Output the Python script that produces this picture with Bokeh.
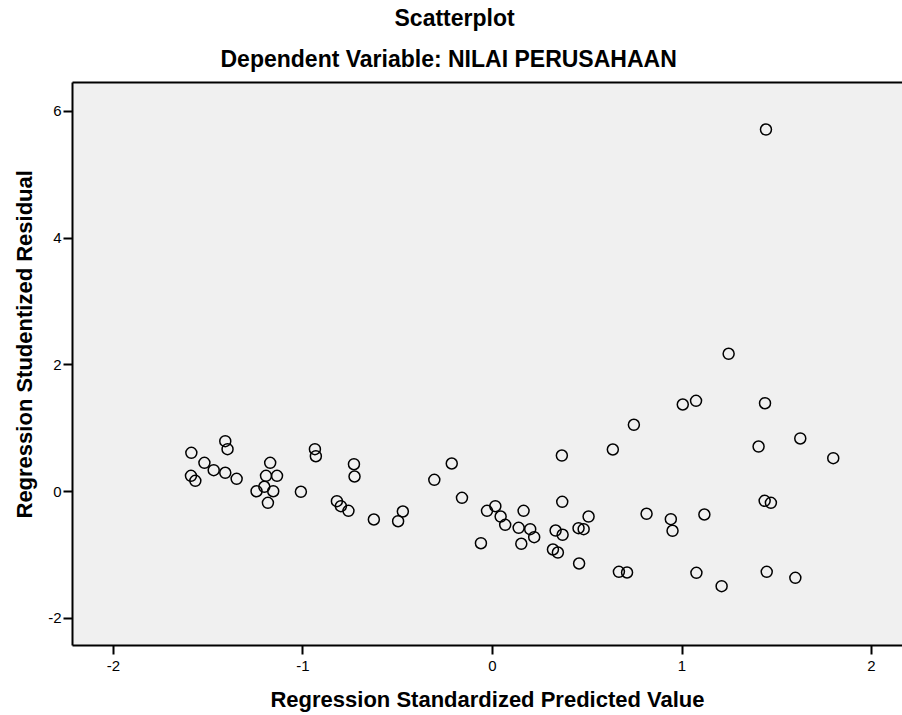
from bokeh.plotting import figure
from bokeh.models import Range1d, LinearAxis, FixedTicker, Title
from bokeh.embed import file_html
from bokeh.resources import INLINE

# Data
predicted = [-1.589, -1.410, -1.398, -1.520, -1.471, -1.410, -1.350, -1.591, -1.568,
             -1.173, -1.195, -1.137, -1.204, -1.245, -1.157, -1.185, -1.011, -0.937,
             -0.932, -0.731, -0.728, -0.821, -0.800, -0.760, -0.626, -0.498, -0.473,
             -0.307, -0.215, -0.161, -0.061, -0.029, 0.015, 0.043, 0.067, 0.138,
             0.164, 0.152, 0.199, 0.220, 0.319, 0.345, 0.333, 0.370, 0.366, 0.368,
             0.454, 0.481, 0.507, 0.457, 0.635, 0.746, 0.667, 0.710, 1.246, 1.004,
             1.074, 1.438, 1.404, 1.624, 1.798, 1.436, 1.469, 0.813, 0.941, 0.950,
             1.118, 1.076, 1.209, 1.447, 1.598, 1.443]
residual = [0.612, 0.795, 0.669, 0.454, 0.338, 0.297, 0.202, 0.249, 0.170,
            0.454, 0.249, 0.249, 0.076, 0.006, 0.006, -0.177, -0.003, 0.669,
            0.558, 0.432, 0.238, -0.151, -0.230, -0.303, -0.440, -0.467, -0.314,
            0.186, 0.443, -0.098, -0.814, -0.303, -0.230, -0.393, -0.524, -0.571,
            -0.303, -0.823, -0.593, -0.719, -0.913, -0.961, -0.614, -0.681, 0.569, -0.161,
            -0.577, -0.593, -0.393, -1.134, 0.664, 1.054, -1.265, -1.276, 2.174, 1.374,
            1.432, 1.394, 0.711, 0.838, 0.527, -0.145, -0.177, -0.350, -0.435, -0.618,
            -0.361, -1.281, -1.492, -1.265, -1.360, 5.711]
x_ticks = [-2, -1, 0, 1, 2]
x_tick_labels = ["-2", "-1", "0", "1", "2"]
y_ticks = [-2, 0, 2, 4, 6]
y_tick_labels = ["-2", "0", "2", "4", "6"]
title_main = "Scatterplot"
title_sub = "Dependent Variable: NILAI PERUSAHAAN"
x_title = "Regression Standardized Predicted Value"
y_title = "Regression Studentized Residual"

FONT = "Liberation Sans"

p = figure(width=902, height=715, output_backend="svg", toolbar_location=None,
           x_range=Range1d(-2.2161, 2.1634), y_range=Range1d(-2.4274, 6.4527),
           min_border_left=71, min_border_right=0, min_border_top=82, min_border_bottom=70,
           background_fill_color="#F0F0F0", border_fill_color="white",
           outline_line_color=None)
p.grid.visible = False

def style_axis(ax, ticks, labels, standoff):
    ax.ticker = FixedTicker(ticks=ticks)
    ax.major_label_overrides = {t: l for t, l in zip(ticks, labels)}
    ax.axis_line_color = "black"
    ax.axis_line_width = 2
    ax.major_tick_line_color = "black"
    ax.major_tick_line_width = 2
    ax.major_tick_out = 9
    ax.major_tick_in = 0
    ax.minor_tick_line_color = None
    ax.major_label_text_font = FONT
    ax.major_label_text_font_size = "15px"
    ax.major_label_text_color = "black"
    ax.major_label_standoff = standoff

style_axis(p.xaxis[0], x_ticks, x_tick_labels, 6)
style_axis(p.yaxis[0], y_ticks, y_tick_labels, 2)

xa = p.xaxis[0]
xa.axis_label = x_title
xa.axis_label_text_font = FONT
xa.axis_label_text_font_size = "22px"
xa.axis_label_text_font_style = "bold"
xa.axis_label_text_color = "black"
xa.axis_label_standoff = 13

top = LinearAxis(ticker=FixedTicker(ticks=[]), axis_line_color="black", axis_line_width=2,
                 major_tick_line_color=None, minor_tick_line_color=None,
                 major_tick_out=0, major_tick_in=0, major_label_standoff=0,
                 major_label_text_color=None)
p.add_layout(top, "above")

p.scatter(predicted, residual, marker="circle", size=11, fill_color=None,
          line_color="black", line_width=1.5)

def mk_title(text, offset, standoff, valign, size):
    return Title(text=text, align="left", offset=offset, standoff=standoff,
                 vertical_align=valign, text_font=FONT, text_font_size=size,
                 text_font_style="bold", text_color="black")

p.add_layout(mk_title(title_sub, 148, 22, "bottom", "23px"), "above")
p.add_layout(mk_title(title_main, 322, 4, "bottom", "23px"), "above")
p.add_layout(mk_title(y_title, 127, 18, "bottom", "22px"), "left")

open("out.html", "w").write(file_html(p, INLINE))
